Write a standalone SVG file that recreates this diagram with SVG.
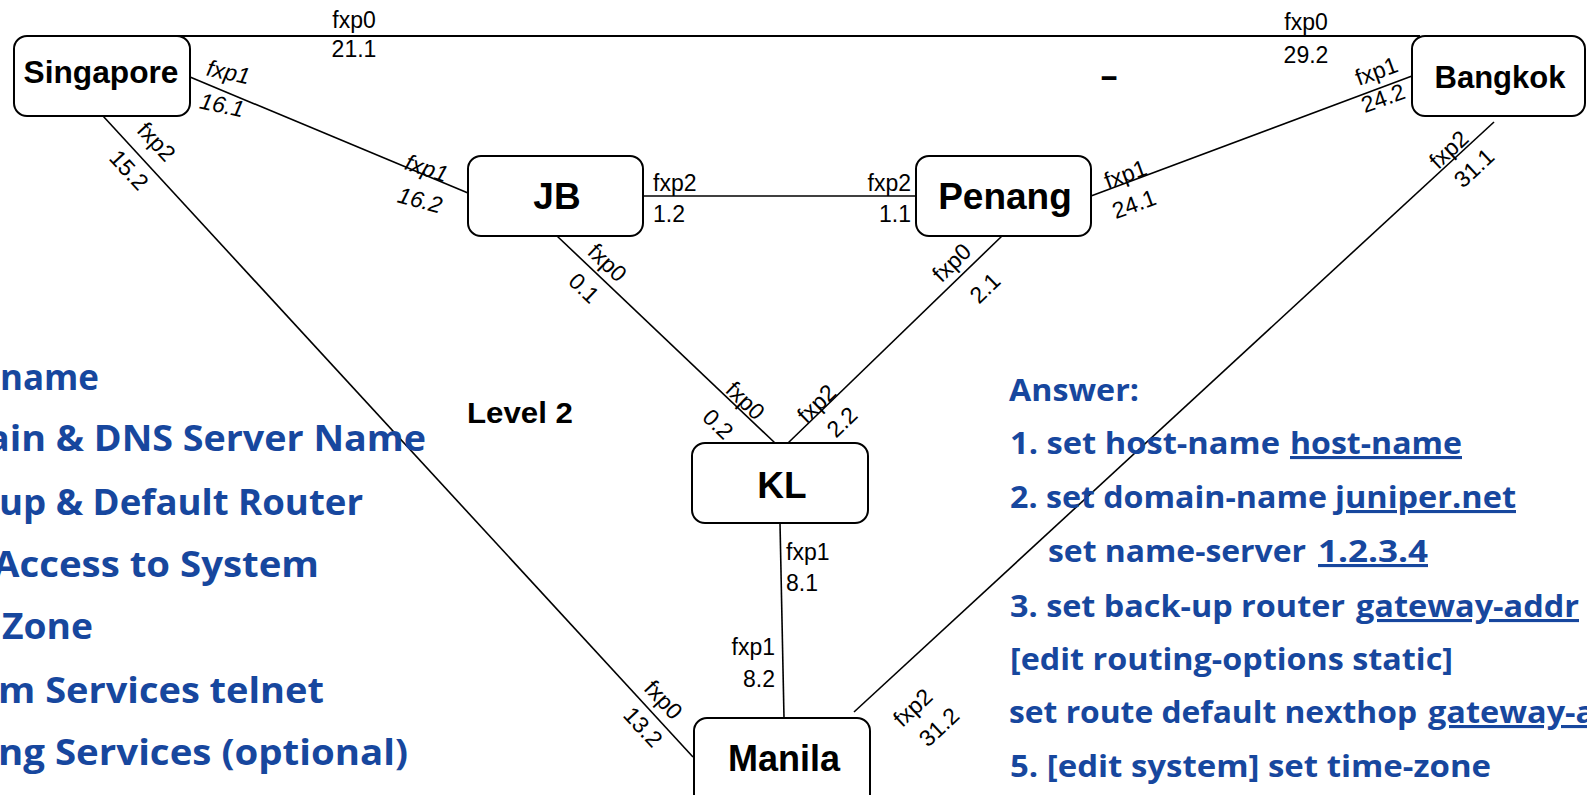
<svg xmlns="http://www.w3.org/2000/svg" width="1587" height="795" viewBox="0 0 1587 795">
<style>
.box{fill:#fff;stroke:#000;stroke-width:2}
.edge{stroke:#000;stroke-width:1.6;fill:none}
.top{stroke:#000;stroke-width:2.2}
.lbl{font-family:"Liberation Sans",Arial,sans-serif;font-size:23px;fill:#000}
.rl{font-family:"Liberation Sans",Arial,sans-serif;font-size:23px;fill:#000;text-anchor:middle}
.it{font-style:italic}
.nm{font-family:"Liberation Sans",Arial,sans-serif;font-weight:bold;fill:#000;text-anchor:middle}
.bl{font-family:"Open Sans","Noto Sans",sans-serif;font-weight:bold;fill:#17479e}
.u{text-decoration:underline}
</style>
<rect width="1587" height="795" fill="#fff"/>
<g id="connectors">
<line class="top" x1="175" y1="36" x2="1420" y2="36"/>
<line class="edge" x1="190" y1="77" x2="468" y2="193"/>
<line class="edge" x1="103" y1="116" x2="693" y2="757"/>
<line class="edge" x1="643" y1="196" x2="916" y2="196"/>
<line class="edge" x1="557" y1="236" x2="775" y2="443"/>
<line class="edge" x1="1003" y1="235" x2="788" y2="443"/>
<line class="edge" x1="1091" y1="196" x2="1412" y2="76"/>
<line class="edge" x1="1494" y1="122" x2="854" y2="712"/>
<line class="edge" x1="780" y1="523" x2="784" y2="718"/>
<text class="lbl" x="354" y="28" text-anchor="middle">fxp0</text>
<text class="lbl" x="354" y="57" text-anchor="middle">21.1</text>
<text class="lbl" x="1306" y="30" text-anchor="middle">fxp0</text>
<text class="lbl" x="1306" y="63" text-anchor="middle">29.2</text>
<text class="rl it" transform="translate(228,74) rotate(12)" y="6">fxp1</text>
<text class="rl it" transform="translate(222,105) rotate(12)" y="8">16.1</text>
<text class="rl it" transform="translate(426,170) rotate(18)" y="6">fxp1</text>
<text class="rl it" transform="translate(420,200) rotate(15)" y="8">16.2</text>
<text class="rl" transform="translate(155,143) rotate(47)" y="6">fxp2</text>
<text class="rl" transform="translate(129,170) rotate(47)" y="8">15.2</text>
<text class="rl" transform="translate(662,701) rotate(47)" y="6">fxp0</text>
<text class="rl" transform="translate(643,727) rotate(47)" y="8">13.2</text>
<text class="lbl" x="653" y="191">fxp2</text>
<text class="lbl" x="653" y="222">1.2</text>
<text class="lbl" x="911" y="191" text-anchor="end">fxp2</text>
<text class="lbl" x="911" y="222" text-anchor="end">1.1</text>
<text class="rl" transform="translate(606,264) rotate(44)" y="6">fxp0</text>
<text class="rl" transform="translate(584,288) rotate(44)" y="8">0.1</text>
<text class="rl" transform="translate(744,402) rotate(44)" y="6">fxp0</text>
<text class="rl" transform="translate(718,424) rotate(44)" y="8">0.2</text>
<text class="rl" transform="translate(953,264) rotate(-44)" y="6">fxp0</text>
<text class="rl" transform="translate(985,288) rotate(-44)" y="8">2.1</text>
<text class="rl" transform="translate(818,405) rotate(-44)" y="6">fxp2</text>
<text class="rl" transform="translate(842,422) rotate(-44)" y="8">2.2</text>
<text class="rl" transform="translate(1126,176) rotate(-20)" y="6">fxp1</text>
<text class="rl" transform="translate(1134,204) rotate(-20)" y="8">24.1</text>
<text class="rl" transform="translate(1377,73) rotate(-20)" y="6">fxp1</text>
<text class="rl" transform="translate(1383,98) rotate(-20)" y="8">24.2</text>
<text class="rl" transform="translate(1450,151) rotate(-43)" y="6">fxp2</text>
<text class="rl" transform="translate(1474,168) rotate(-43)" y="8">31.1</text>
<text class="rl" transform="translate(914,709) rotate(-43)" y="6">fxp2</text>
<text class="rl" transform="translate(939,727) rotate(-43)" y="8">31.2</text>
<text class="lbl" x="786" y="560">fxp1</text>
<text class="lbl" x="786" y="591">8.1</text>
<text class="lbl" x="775" y="655" text-anchor="end">fxp1</text>
<text class="lbl" x="775" y="687" text-anchor="end">8.2</text>
</g>
<g id="singapore"><rect class="box" x="14" y="36" width="176" height="80" rx="13"/><text class="nm" x="101" y="83" font-size="32" textLength="155" lengthAdjust="spacingAndGlyphs">Singapore</text></g>
<g id="bangkok"><rect class="box" x="1412" y="36" width="173" height="80" rx="13"/><text class="nm" x="1500" y="88" font-size="31">Bangkok</text></g>
<g id="jb"><rect class="box" x="468" y="156" width="175" height="80" rx="13"/><text class="nm" x="557" y="209" font-size="37">JB</text></g>
<g id="penang"><rect class="box" x="916" y="156" width="175" height="80" rx="13"/><text class="nm" x="1005" y="209" font-size="37">Penang</text></g>
<g id="kl"><rect class="box" x="692" y="443" width="176" height="80" rx="13"/><text class="nm" x="782" y="498" font-size="37">KL</text></g>
<g id="manila"><rect class="box" x="694" y="718" width="176" height="95" rx="13"/><text class="nm" x="784" y="771" font-size="36">Manila</text></g>
<g id="level2"><text class="nm" x="520" y="423" font-size="29" textLength="106" lengthAdjust="spacingAndGlyphs">Level 2</text></g>
<g id="dash"><text class="nm" transform="translate(1109,86) scale(1.8,1)" font-size="32">-</text></g>
<g id="questions" font-size="35">
<text class="bl" x="99" y="390" text-anchor="end" textLength="99" lengthAdjust="spacingAndGlyphs">name</text>
<text class="bl" x="426" y="451" text-anchor="end" textLength="439" lengthAdjust="spacingAndGlyphs">ain &amp; DNS Server Name</text>
<text class="bl" x="363" y="515" text-anchor="end" textLength="364" lengthAdjust="spacingAndGlyphs">up &amp; Default Router</text>
<text class="bl" x="319" y="577" text-anchor="end" textLength="326" lengthAdjust="spacingAndGlyphs">Access to System</text>
<text class="bl" x="93" y="639" text-anchor="end" textLength="91" lengthAdjust="spacingAndGlyphs">Zone</text>
<text class="bl" x="324" y="703" text-anchor="end" textLength="326" lengthAdjust="spacingAndGlyphs">m Services telnet</text>
<text class="bl" x="408" y="765" text-anchor="end" textLength="410" lengthAdjust="spacingAndGlyphs">ng Services (optional)</text>
</g>
<g id="answers" font-size="31">
<text class="bl" x="1009" y="401" textLength="130" lengthAdjust="spacingAndGlyphs">Answer:</text>
<text class="bl" x="1010" y="454" textLength="270" lengthAdjust="spacingAndGlyphs">1. set host-name</text>
<text class="bl u" x="1290" y="454" textLength="172" lengthAdjust="spacingAndGlyphs">host-name</text>
<text class="bl" x="1010" y="508" textLength="317" lengthAdjust="spacingAndGlyphs">2. set domain-name</text>
<text class="bl u" x="1335" y="508" textLength="181" lengthAdjust="spacingAndGlyphs">juniper.net</text>
<text class="bl" x="1048" y="562" textLength="258" lengthAdjust="spacingAndGlyphs">set name-server</text>
<text class="bl u" x="1318" y="562" textLength="110" lengthAdjust="spacingAndGlyphs">1.2.3.4</text>
<text class="bl" x="1010" y="617" textLength="335" lengthAdjust="spacingAndGlyphs">3. set back-up router</text>
<text class="bl u" x="1356" y="617" textLength="223" lengthAdjust="spacingAndGlyphs">gateway-addr</text>
<text class="bl" x="1010" y="670" textLength="443" lengthAdjust="spacingAndGlyphs">[edit routing-options static]</text>
<text class="bl" x="1009" y="723" textLength="408" lengthAdjust="spacingAndGlyphs">set route default nexthop</text>
<text class="bl u" x="1428" y="723" textLength="223" lengthAdjust="spacingAndGlyphs">gateway-addr</text>
<text class="bl" x="1010" y="777" textLength="481" lengthAdjust="spacingAndGlyphs">5. [edit system] set time-zone</text>
</g>
</svg>
